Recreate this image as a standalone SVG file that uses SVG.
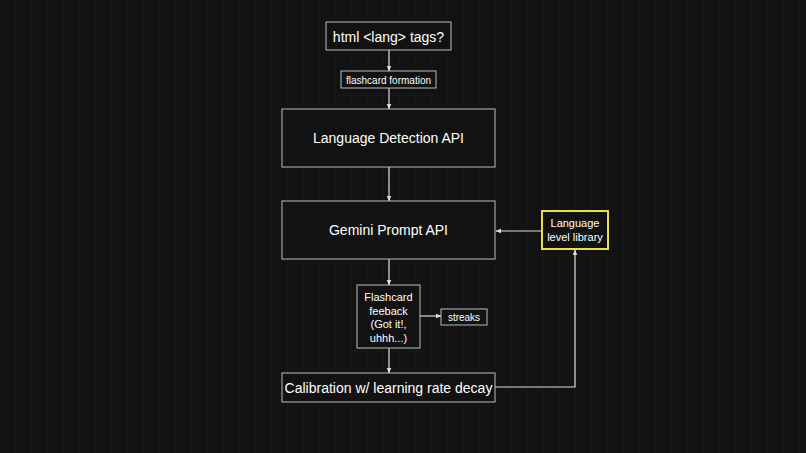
<svg xmlns="http://www.w3.org/2000/svg" width="806" height="453" viewBox="0 0 806 453">
<defs>
<pattern id="g" width="16" height="16" patternUnits="userSpaceOnUse"><path d="M16 0V16H0" fill="none" stroke="#222" stroke-width="0.6"/></pattern>
<marker id="a" viewBox="0 0 10 10" refX="9" refY="5" markerWidth="5" markerHeight="5" orient="auto"><path d="M0 1L10 5L0 9z" fill="#ddd"/></marker>
<style>
.b{fill:#121212;stroke:#bbb;stroke-width:1}
.y{fill:#121212;stroke:#e5e04a;stroke-width:2}
text{font-family:"Liberation Sans",Arial,sans-serif;fill:#fff;text-anchor:middle}
.c path{fill:none;stroke:#ddd;stroke-width:1.2;marker-end:url(#a)}
</style>
</defs>
<rect width="806" height="453" fill="#121212"/>
<rect width="806" height="453" fill="url(#g)"/>
<g class="c">
<path d="M389 50V71"/>
<path d="M389 88V109"/>
<path d="M389 167V201"/>
<path d="M389 259V285"/>
<path d="M389 348V373"/>
<path d="M420 316H441"/>
<path d="M542 231H496"/>
<path d="M495 387H575V250"/>
</g>
<g id="html"><rect class="b" x="326" y="22" width="125" height="28"/><text x="388.5" y="42" font-size="14">html &lt;lang&gt; tags?</text></g>
<g id="formation"><rect class="b" x="341" y="71" width="95" height="17"/><text x="388.5" y="83.5" font-size="10">flashcard formation</text></g>
<g id="detect"><rect class="b" x="282" y="109" width="213" height="58"/><text x="388.5" y="143" font-size="14">Language Detection API</text></g>
<g id="gemini"><rect class="b" x="282" y="201" width="213" height="58"/><text x="388.5" y="235" font-size="14">Gemini Prompt API</text></g>
<g id="library"><rect class="y" x="542" y="211" width="66" height="38"/><text x="575" y="227" font-size="11">Language</text><text x="575" y="241" font-size="11">level library</text></g>
<g id="feedback"><rect class="b" x="357" y="285" width="63" height="63"/><text x="388.5" y="301" font-size="11">Flashcard</text><text x="388.5" y="314.5" font-size="11">feeback</text><text x="388.5" y="328" font-size="11">(Got it!,</text><text x="388.5" y="341.5" font-size="11">uhhh...)</text></g>
<g id="streaks"><rect class="b" x="441" y="309" width="46" height="16"/><text x="464" y="321" font-size="10">streaks</text></g>
<g id="calib"><rect class="b" x="282" y="373" width="213" height="29"/><text x="388.5" y="392.5" font-size="14">Calibration w/ learning rate decay</text></g>
</svg>
